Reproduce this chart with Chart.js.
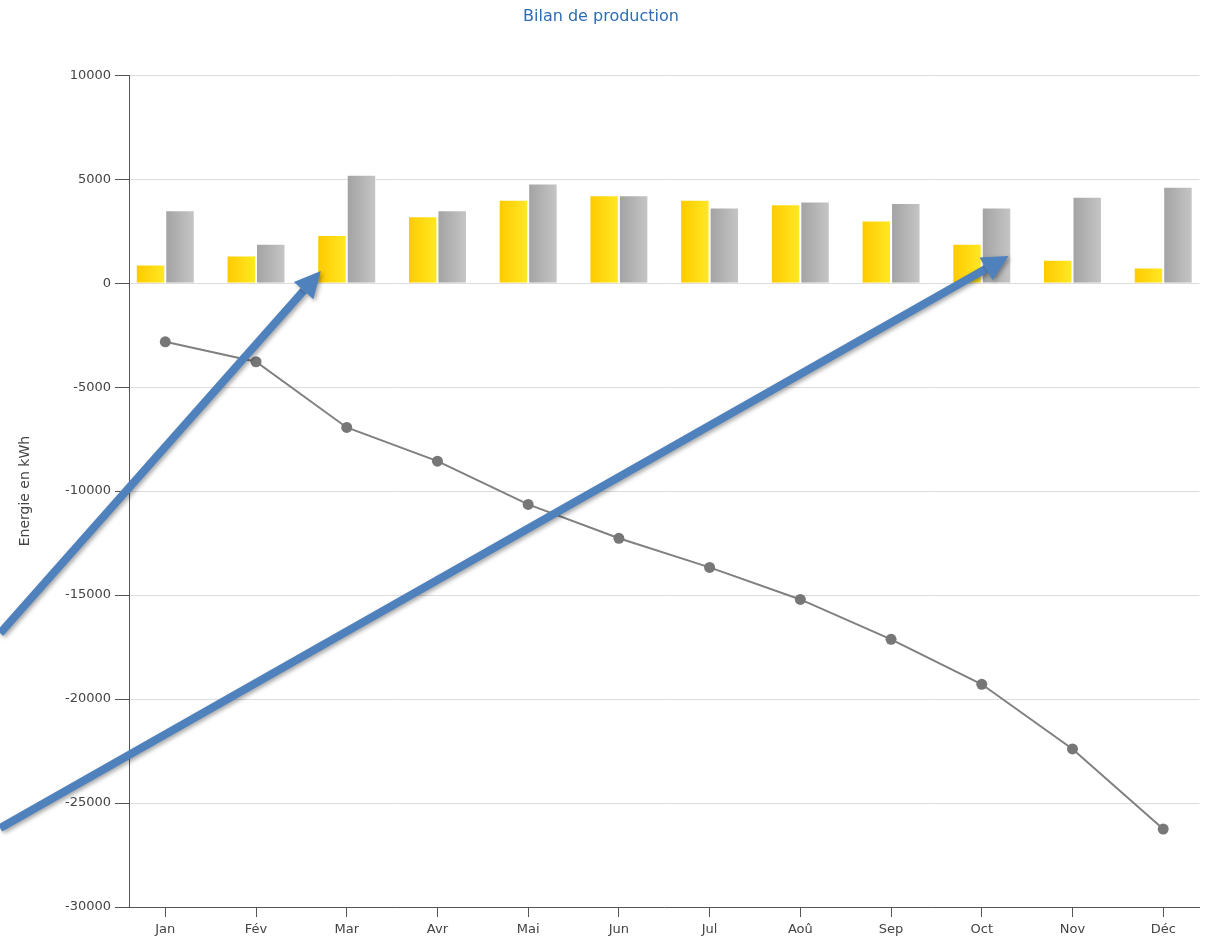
<!DOCTYPE html>
<html>
<head>
<meta charset="utf-8">
<script src="https://cdn.jsdelivr.net/npm/chart.js@4/dist/chart.umd.min.js"></script>
<style>
  html, body { margin: 0; padding: 0; background: #fff; }
  #wrap { width: 1205px; height: 938px; position: relative; }
</style>
</head>
<body>
<div id="wrap"><canvas id="bilanChart"></canvas></div>
<script>
// Monthly production balance (kWh)
const months = ["Jan", "Fév", "Mar", "Avr", "Mai", "Jun", "Jul", "Aoû", "Sep", "Oct", "Nov", "Déc"];
const production = [900, 1330, 2310, 3220, 4010, 4230, 4010, 3800, 3010, 1890, 1120, 750];
const consumption = [3510, 1890, 5210, 3510, 4790, 4230, 3640, 3930, 3860, 3640, 4150, 4630];
const cumulative = [-2820, -3780, -6940, -8560, -10640, -12270, -13670, -15210, -17130, -19290, -22400, -26250];
const yTicks = [-30000, -25000, -20000, -15000, -10000, -5000, 0, 5000, 10000];

// Overlay arrows, in data units (month index, kWh)
const arrows = [
  { from: [-1.82, -16830], to: [1.715, 580] },
  { from: [-1.82, -26200], to: [9.296, 1310] }
];

const textColor = "#444444";
const axisColor = "#555555";
const gridColor = "#dcdcdc";
const groupShare = 0.65;

Chart.defaults.font.family = "'DejaVu Sans', Verdana, sans-serif";
Chart.defaults.font.size = 13;

function barGradient(from, to, side) {
  return (ctx) => {
    const chart = ctx.chart;
    const x = chart.scales.x;
    if (ctx.type !== "data" || !x || !x.width) return from;
    const c = x.getPixelForValue(ctx.dataIndex);
    const half = (x.getPixelForValue(1) - x.getPixelForValue(0)) * groupShare / 2;
    const left = side === "left" ? c - half : c;
    const g = chart.ctx.createLinearGradient(left, 0, left + half, 0);
    g.addColorStop(0, from);
    g.addColorStop(1, to);
    return g;
  };
}

const arrowPlugin = {
  id: "arrows",
  afterDraw(chart) {
    const { ctx, scales } = chart;
    ctx.save();
    ctx.shadowColor = "rgba(0,0,0,0.35)";
    ctx.shadowBlur = 4;
    ctx.shadowOffsetX = 2;
    ctx.shadowOffsetY = 2;
    ctx.fillStyle = "#4f81bd";
    ctx.strokeStyle = "#4f81bd";
    arrows.forEach(a => {
      const x1 = scales.x.getPixelForValue(a.from[0]);
      const y1 = scales.y.getPixelForValue(a.from[1]);
      const x2 = scales.x.getPixelForValue(a.to[0]);
      const y2 = scales.y.getPixelForValue(a.to[1]);
      const ang = Math.atan2(y2 - y1, x2 - x1);
      const headLen = 26, headW = 13;
      const bx = x2 - headLen * Math.cos(ang);
      const by = y2 - headLen * Math.sin(ang);
      ctx.lineWidth = 8;
      ctx.beginPath();
      ctx.moveTo(x1, y1);
      ctx.lineTo(bx, by);
      ctx.stroke();
      ctx.beginPath();
      ctx.moveTo(x2, y2);
      ctx.lineTo(bx + headW * Math.sin(ang), by - headW * Math.cos(ang));
      ctx.lineTo(bx - headW * Math.sin(ang), by + headW * Math.cos(ang));
      ctx.closePath();
      ctx.fill();
    });
    ctx.restore();
  }
};

const chart = new Chart(document.getElementById("bilanChart").getContext("2d"), {
  type: "bar",
  data: {
    datasets: [
      {
        type: "line",
        label: "Bilan cumulé",
        data: cumulative.map((v, i) => ({ x: i, y: v })),
        borderColor: "#808080",
        backgroundColor: "#7a7a7a",
        borderWidth: 2,
        pointRadius: 5.5,
        pointBorderWidth: 0,
        pointBackgroundColor: "#777777",
        tension: 0,
        order: 0
      },
      {
        label: "Production",
        data: production.map((v, i) => ({ x: i, y: v })),
        backgroundColor: barGradient("#ffc900", "#ffe924", "left"),
        borderColor: "rgba(255,255,255,0.45)",
        borderWidth: 1,
        categoryPercentage: groupShare,
        barPercentage: 1,
        order: 1
      },
      {
        label: "Consommation",
        data: consumption.map((v, i) => ({ x: i, y: v })),
        backgroundColor: barGradient("#a2a2a2", "#c6c6c6", "right"),
        borderColor: "rgba(255,255,255,0.45)",
        borderWidth: 1,
        categoryPercentage: groupShare,
        barPercentage: 1,
        order: 1
      }
    ]
  },
  options: {
    responsive: true,
    maintainAspectRatio: false,
    animation: false,
    layout: { padding: { left: 2, right: 5, top: 0, bottom: 0 } },
    plugins: {
      legend: { display: false },
      tooltip: { enabled: false },
      title: {
        display: true,
        text: "Bilan de production",
        color: "#2e6db4",
        font: { size: 16, weight: "normal" },
        padding: { top: 7, bottom: 49 }
      }
    },
    scales: {
      x: {
        type: "linear",
        offset: false,
        min: -0.4,
        max: 11.4,
        afterBuildTicks: s => { s.ticks = months.map((m, i) => ({ value: i })); },
        afterFit: s => { s.height = 31; },
        ticks: {
          color: textColor,
          padding: 5,
          maxRotation: 0,
          autoSkip: false,
          callback: v => months[v] ?? ""
        },
        grid: { offset: false, drawOnChartArea: false, drawTicks: true, tickLength: 10, tickColor: axisColor },
        border: { color: axisColor, width: 1 }
      },
      y: {
        min: -30000,
        max: 10000,
        afterBuildTicks: s => { s.ticks = yTicks.map(v => ({ value: v })); },
        afterFit: s => { s.width = 127; },
        ticks: { color: textColor, padding: 4, callback: v => String(v) },
        grid: { color: gridColor, tickColor: axisColor, tickLength: 14, drawTicks: true },
        border: { color: axisColor, width: 1 },
        title: {
          display: true,
          text: "Energie en kWh",
          color: textColor,
          font: { size: 14 },
          padding: { top: 15, bottom: 0 }
        }
      }
    }
  },
  plugins: [arrowPlugin]
});
</script>
</body>
</html>
